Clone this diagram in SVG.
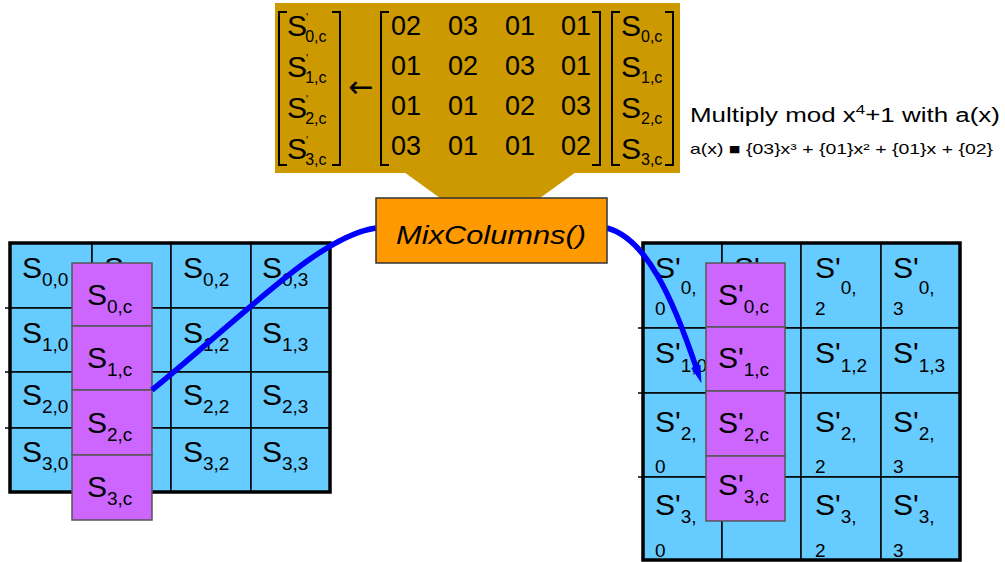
<svg xmlns="http://www.w3.org/2000/svg" width="1005" height="562" viewBox="0 0 1005 562">
<style>
.t{font-family:"Liberation Sans",Arial,sans-serif;fill:#000}
.S{font-size:30px}
.sub{font-size:19px}
.num{font-size:27px;text-anchor:middle}
.cell{fill:#66CCFF;stroke:#000;stroke-width:1.5}
.pc{fill:#CC66FF;stroke:#555;stroke-width:1.5}
.br{fill:none;stroke:#000;stroke-width:2}
.frame{fill:none;stroke:#000;stroke-width:3.5}
.curve{fill:none;stroke:#0000FF;stroke-width:5.5}
</style>
<defs>
<marker id="ah" markerWidth="18" markerHeight="12" refX="4" refY="6" orient="auto" markerUnits="userSpaceOnUse">
<path d="M0,1 L18,6 L0,11 Z" fill="#0000FF"/>
</marker>
</defs>
<rect width="1005" height="562" fill="#fff"/>

<g id="callout">
<rect x="275" y="3" width="405" height="170" fill="#CC9900"/>
<polygon points="404,172 576,172 540,198 440,198" fill="#CC9900"/>
<path class="br" d="M287,12 H279 V165 H287"/>
<path class="br" d="M332,12 H340 V165 H332"/>
<path class="br" d="M389,12 H381 V165 H389"/>
<path class="br" d="M592,12 H600 V165 H592"/>
<path class="br" d="M620,12 H612 V165 H620"/>
<path class="br" d="M665,12 H673 V165 H665"/>
<g class="t">
<text class="S" x="287" y="36">S<tspan font-size="11" dy="-15" dx="-1">'</tspan><tspan font-size="16" dy="21" dx="-3">0,c</tspan></text>
<text class="S" x="287" y="77">S<tspan font-size="11" dy="-15" dx="-1">'</tspan><tspan font-size="16" dy="21" dx="-3">1,c</tspan></text>
<text class="S" x="287" y="118">S<tspan font-size="11" dy="-15" dx="-1">'</tspan><tspan font-size="16" dy="21" dx="-3">2,c</tspan></text>
<text class="S" x="287" y="159">S<tspan font-size="11" dy="-15" dx="-1">'</tspan><tspan font-size="16" dy="21" dx="-3">3,c</tspan></text>
<text x="361" y="97" font-size="30" font-family="DejaVu Sans,sans-serif" text-anchor="middle">←</text>
<text class="num" x="406" y="35">02</text><text class="num" x="463" y="35">03</text><text class="num" x="520" y="35">01</text><text class="num" x="576" y="35">01</text>
<text class="num" x="406" y="75">01</text><text class="num" x="463" y="75">02</text><text class="num" x="520" y="75">03</text><text class="num" x="576" y="75">01</text>
<text class="num" x="406" y="115">01</text><text class="num" x="463" y="115">01</text><text class="num" x="520" y="115">02</text><text class="num" x="576" y="115">03</text>
<text class="num" x="406" y="155">03</text><text class="num" x="463" y="155">01</text><text class="num" x="520" y="155">01</text><text class="num" x="576" y="155">02</text>
<text class="S" x="621" y="36">S<tspan font-size="16" dy="6">0,c</tspan></text>
<text class="S" x="621" y="77">S<tspan font-size="16" dy="6">1,c</tspan></text>
<text class="S" x="621" y="118">S<tspan font-size="16" dy="6">2,c</tspan></text>
<text class="S" x="621" y="159">S<tspan font-size="16" dy="6">3,c</tspan></text>
</g>
</g>

<g id="caption" class="t">
<text x="690" y="122" font-size="20" textLength="310" lengthAdjust="spacingAndGlyphs">Multiply mod x<tspan font-size="13" dy="-8">4</tspan><tspan dy="8">+1 with a(x)</tspan></text>
<text x="690" y="154" font-size="15" textLength="303" lengthAdjust="spacingAndGlyphs">a(x)  ■ {03}x³ + {01}x² + {01}x + {02}</text>
</g>

<g id="left-state">
<rect class="cell" x="10" y="243" width="82" height="65"/><rect class="cell" x="92" y="243" width="79" height="65"/><rect class="cell" x="171" y="243" width="80" height="65"/><rect class="cell" x="251" y="243" width="79" height="65"/>
<rect class="cell" x="10" y="308" width="82" height="64"/><rect class="cell" x="92" y="308" width="79" height="64"/><rect class="cell" x="171" y="308" width="80" height="64"/><rect class="cell" x="251" y="308" width="79" height="64"/>
<rect class="cell" x="10" y="372" width="82" height="56"/><rect class="cell" x="92" y="372" width="79" height="56"/><rect class="cell" x="171" y="372" width="80" height="56"/><rect class="cell" x="251" y="372" width="79" height="56"/>
<rect class="cell" x="10" y="428" width="82" height="64"/><rect class="cell" x="92" y="428" width="79" height="64"/><rect class="cell" x="171" y="428" width="80" height="64"/><rect class="cell" x="251" y="428" width="79" height="64"/>
<rect class="frame" x="10" y="243" width="320" height="249"/>
<path d="M5,308 H10 M5,372 H10 M5,428 H10" stroke="#000" stroke-width="1.5"/>
<g class="t">
<text class="S" x="22" y="278">S<tspan class="sub" dy="8">0,0</tspan></text>
<text class="S" x="104" y="278">S<tspan class="sub" dy="8">0,1</tspan></text>
<text class="S" x="183" y="278">S<tspan class="sub" dy="8">0,2</tspan></text>
<text class="S" x="262" y="278">S<tspan class="sub" dy="8">0,3</tspan></text>
<text class="S" x="22" y="343">S<tspan class="sub" dy="8">1,0</tspan></text>
<text class="S" x="183" y="343">S<tspan class="sub" dy="8">1,2</tspan></text>
<text class="S" x="262" y="343">S<tspan class="sub" dy="8">1,3</tspan></text>
<text class="S" x="22" y="405">S<tspan class="sub" dy="8">2,0</tspan></text>
<text class="S" x="183" y="405">S<tspan class="sub" dy="8">2,2</tspan></text>
<text class="S" x="262" y="405">S<tspan class="sub" dy="8">2,3</tspan></text>
<text class="S" x="22" y="462">S<tspan class="sub" dy="8">3,0</tspan></text>
<text class="S" x="183" y="462">S<tspan class="sub" dy="8">3,2</tspan></text>
<text class="S" x="262" y="462">S<tspan class="sub" dy="8">3,3</tspan></text>
</g>
</g>

<g id="left-column">
<rect class="pc" x="72" y="263" width="80" height="63"/>
<rect class="pc" x="72" y="326" width="80" height="64"/>
<rect class="pc" x="72" y="390" width="80" height="65"/>
<rect class="pc" x="72" y="455" width="80" height="65"/>
<g class="t">
<text class="S" x="87" y="305">S<tspan class="sub" dy="8">0,c</tspan></text>
<text class="S" x="87" y="368">S<tspan class="sub" dy="8">1,c</tspan></text>
<text class="S" x="87" y="433">S<tspan class="sub" dy="8">2,c</tspan></text>
<text class="S" x="87" y="497">S<tspan class="sub" dy="8">3,c</tspan></text>
</g>
</g>

<g id="right-state">
<rect class="cell" x="643" y="243" width="79" height="85"/><rect class="cell" x="722" y="243" width="79" height="85"/><rect class="cell" x="801" y="243" width="80" height="85"/><rect class="cell" x="881" y="243" width="79" height="85"/>
<rect class="cell" x="643" y="328" width="79" height="65"/><rect class="cell" x="722" y="328" width="79" height="65"/><rect class="cell" x="801" y="328" width="80" height="65"/><rect class="cell" x="881" y="328" width="79" height="65"/>
<rect class="cell" x="643" y="393" width="79" height="84"/><rect class="cell" x="722" y="393" width="79" height="84"/><rect class="cell" x="801" y="393" width="80" height="84"/><rect class="cell" x="881" y="393" width="79" height="84"/>
<rect class="cell" x="643" y="477" width="79" height="83"/><rect class="cell" x="722" y="477" width="79" height="83"/><rect class="cell" x="801" y="477" width="80" height="83"/><rect class="cell" x="881" y="477" width="79" height="83"/>
<rect class="frame" x="643" y="243" width="317" height="317"/>
<path d="M638,328 H643 M638,393 H643 M638,477 H643" stroke="#000" stroke-width="1.5"/>
<g class="t">
<text class="S" x="655" y="278">S'<tspan class="sub" dy="16">0,</tspan></text><text class="sub" x="655" y="315">0</text>
<text class="S" x="734" y="278">S'<tspan class="sub" dy="16">0,</tspan></text>
<text class="S" x="815" y="278">S'<tspan class="sub" dy="16">0,</tspan></text><text class="sub" x="815" y="315">2</text>
<text class="S" x="893" y="278">S'<tspan class="sub" dy="16">0,</tspan></text><text class="sub" x="893" y="315">3</text>
<text class="S" x="655" y="363">S'<tspan class="sub" dy="9">1,0</tspan></text>
<text class="S" x="815" y="363">S'<tspan class="sub" dy="9">1,2</tspan></text>
<text class="S" x="893" y="363">S'<tspan class="sub" dy="9">1,3</tspan></text>
<text class="S" x="655" y="432">S'<tspan class="sub" dy="8">2,</tspan></text><text class="sub" x="655" y="473">0</text>
<text class="S" x="815" y="432">S'<tspan class="sub" dy="8">2,</tspan></text><text class="sub" x="815" y="473">2</text>
<text class="S" x="893" y="432">S'<tspan class="sub" dy="8">2,</tspan></text><text class="sub" x="893" y="473">3</text>
<text class="S" x="655" y="515">S'<tspan class="sub" dy="8">3,</tspan></text><text class="sub" x="655" y="557">0</text>
<text class="S" x="815" y="515">S'<tspan class="sub" dy="8">3,</tspan></text><text class="sub" x="815" y="557">2</text>
<text class="S" x="893" y="515">S'<tspan class="sub" dy="8">3,</tspan></text><text class="sub" x="893" y="557">3</text>
</g>
</g>

<g id="connectors">
<path class="curve" d="M152,390 C250,310 320,236 376,228"/>
<path class="curve" d="M607,228 C645,238 672,295 697,370" marker-end="url(#ah)"/>
</g>

<g id="right-column">
<rect class="pc" x="706" y="263" width="79" height="64"/>
<rect class="pc" x="706" y="327" width="79" height="64"/>
<rect class="pc" x="706" y="391" width="79" height="65"/>
<rect class="pc" x="706" y="456" width="79" height="65"/>
<g class="t">
<text class="S" x="718" y="305">S'<tspan class="sub" dy="8">0,c</tspan></text>
<text class="S" x="718" y="368">S'<tspan class="sub" dy="8">1,c</tspan></text>
<text class="S" x="718" y="433">S'<tspan class="sub" dy="8">2,c</tspan></text>
<text class="S" x="718" y="495">S'<tspan class="sub" dy="8">3,c</tspan></text>
</g>
</g>

<g id="mixcolumns">
<rect x="376" y="198" width="231" height="65" fill="#FF9900" stroke="#333" stroke-width="1.5"/>
<text class="t" x="491" y="244" font-size="25" font-style="italic" text-anchor="middle" textLength="190" lengthAdjust="spacingAndGlyphs">MixColumns()</text>
</g>
</svg>
